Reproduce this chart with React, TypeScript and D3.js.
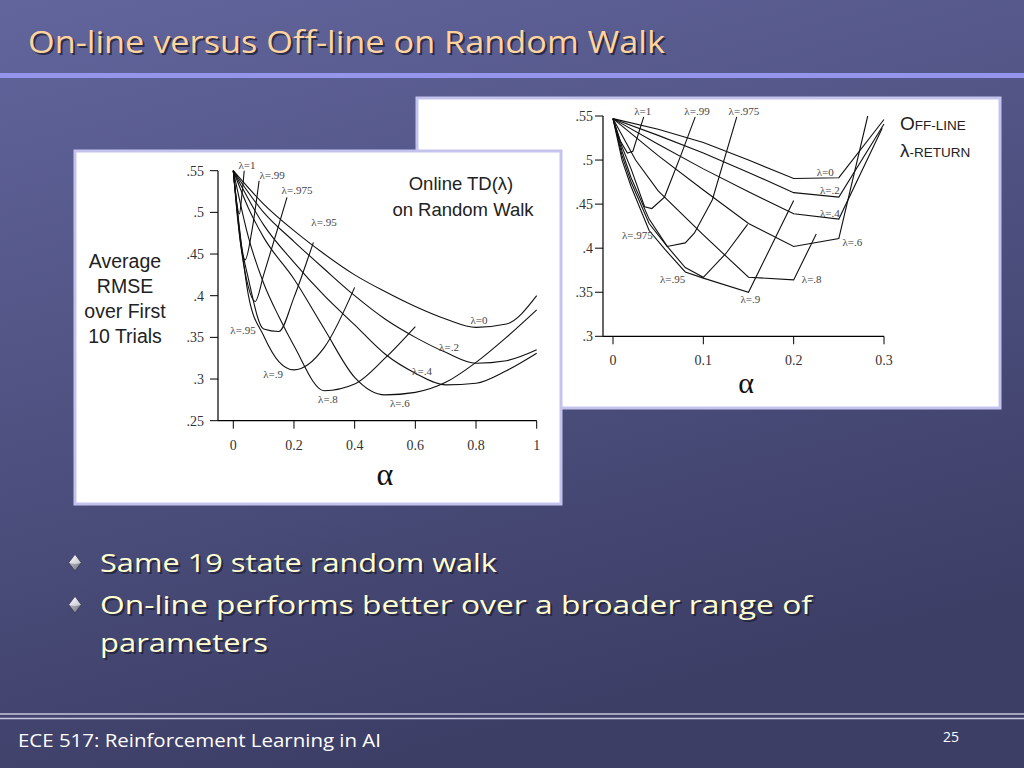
import * as d3 from "d3"

// ---- slide text ----
const titleText = "On-line versus Off-line on Random Walk"
const bulletLines = ["Same 19 state random walk", "On-line performs better over a broader range of", "parameters"]
const footerText = "ECE 517: Reinforcement Learning in AI"
const pageNo = "25"

// ---- online TD(lambda) chart: [alpha, rmse] ----
const onL0 = [[0, .55], [.1, .51], [.2, .478], [.3, .45], [.4, .425], [.5, .405], [.6, .387], [.7, .372], [.8, .362], [.9, .366], [1, .40]]
const onL2 = [[0, .55], [.1, .50], [.2, .465], [.3, .432], [.4, .40], [.5, .372], [.6, .35], [.7, .332], [.8, .319], [.9, .322], [1, .335]]
const onL4 = [[0, .55], [.1, .485], [.2, .44], [.3, .40], [.4, .365], [.5, .33], [.6, .307], [.7, .293], [.8, .295], [.9, .31], [1, .331]]
const onL6 = [[0, .55], [.05, .505], [.1, .47], [.2, .42], [.3, .36], [.4, .302], [.5, .281], [.6, .284], [.7, .296], [.8, .32], [.9, .35], [1, .383]]
const onL8 = [[0, .55], [.05, .47], [.1, .415], [.15, .375], [.2, .34], [.3, .286], [.4, .294], [.5, .325], [.6, .363]]
const onL9 = [[0, .55], [.05, .40], [.1, .352], [.15, .321], [.2, .311], [.3, .338], [.4, .41]]
const onL95 = [[0, .55], [.025, .465], [.05, .42], [.1, .36], [.15, .357], [.2, .398], [.25, .449], [.264, .464]]
const onL975 = [[0, .55], [.025, .46], [.05, .41], [.072, .393], [.1, .425], [.15, .485], [.177, .518]]
const onL99 = [[0, .55], [.015, .49], [.03, .45], [.039, .443], [.06, .475], [.085, .538]]
const onL1 = [[0, .55], [.01, .515], [.02, .498], [.028, .52], [.036, .55]]
const onSeries = [onL0, onL2, onL4, onL6, onL8, onL9, onL95, onL975, onL99, onL1]

const onLabelText = ["λ=1", "λ=.99", "λ=.975", "λ=.95", "λ=.95", "λ=.9", "λ=.8", "λ=.6", "λ=.4", "λ=.2", "λ=0"]
const onLabelAt = [[.045, .557], [.128, .545], [.21, .527], [.299, .488], [.032, .359], [.131, .306], [.312, .276], [.549, .271], [.622, .309], [.711, .338], [.81, .371]]

const onTicksX = [0, .2, .4, .6, .8, 1]
const onTickLabelsX = ["0", "0.2", "0.4", "0.6", "0.8", "1"]
const onTicksY = [.25, .3, .35, .4, .45, .5, .55]
const onTickLabelsY = [".25", ".3", ".35", ".4", ".45", ".5", ".55"]
const yTitleLines = ["Average", "RMSE", "over First", "10 Trials"]

// ---- off-line lambda-return chart ----
const offL0 = [[0, .547], [.05, .535], [.1, .52], [.15, .50], [.2, .479], [.25, .48], [.3, .546]]
const offL2 = [[0, .547], [.05, .528], [.1, .508], [.15, .486], [.2, .463], [.25, .458], [.3, .541]]
const offL4 = [[0, .547], [.05, .518], [.1, .49], [.15, .464], [.2, .439], [.25, .433], [.298, .536]]
const offL6 = [[0, .547], [.05, .505], [.1, .466], [.15, .428], [.2, .402], [.25, .411], [.282, .55]]
const offL8 = [[0, .547], [.025, .5], [.05, .465], [.1, .415], [.15, .367], [.2, .364], [.225, .416]]
const offL9 = [[0, .547], [.01, .5], [.02, .47], [.04, .42], [.058, .398], [.08, .373], [.1, .366], [.15, .35], [.2, .454]]
const offL95 = [[0, .547], [.01, .505], [.02, .475], [.04, .428], [.06, .402], [.08, .378], [.1, .367], [.125, .394], [.149, .427]]
const offL975 = [[0, .547], [.01, .51], [.02, .48], [.04, .433], [.06, .402], [.08, .406], [.09, .417], [.11, .455], [.137, .549]]
const offL99 = [[0, .547], [.01, .515], [.02, .49], [.035, .447], [.043, .445], [.057, .458], [.075, .505], [.091, .549]]
const offL1 = [[0, .547], [.008, .522], [.016, .508], [.022, .51], [.034, .549]]
const offSeries = [offL0, offL2, offL4, offL6, offL8, offL9, offL95, offL975, offL99, offL1]

const offLabelText = ["λ=1", "λ=.99", "λ=.975", "λ=0", "λ=.2", "λ=.4", "λ=.6", "λ=.8", "λ=.9", "λ=.95", "λ=.975"]
const offLabelAt = [[.033, .556], [.093, .556], [.145, .556], [.235, .486], [.24, .466], [.24, .44], [.265, .407], [.22, .365], [.152, .342], [.066, .365], [.027, .415]]

const offTicksX = [0, .1, .2, .3]
const offTickLabelsX = ["0", "0.1", "0.2", "0.3"]
const offTicksY = [.3, .35, .4, .45, .5, .55]
const offTickLabelsY = [".3", ".35", ".4", ".45", ".5", ".55"]

const serif = "'Liberation Serif', 'DejaVu Serif', serif"
const sans = "'Liberation Sans', Arial, sans-serif"
const slideFont = "'Open Sans', 'DejaVu Sans', sans-serif"

type Scale = d3.ScaleLinear<number, number>

function Panel({ x, y, series, smooth, labels, labelAt, ticksX, tickLabelsX, ticksY, tickLabelsY, axisX, xLabelY, yLabelX, alphaAt, alphaSize }: {
  x: Scale, y: Scale, series: number[][][], smooth: boolean, labels: string[], labelAt: number[][],
  ticksX: number[], tickLabelsX: string[], ticksY: number[], tickLabelsY: string[],
  axisX: number, xLabelY: number, yLabelX: number, alphaAt: number[], alphaSize: number
}) {
  const line = d3.line<number[]>().x(d => x(d[0])).y(d => y(d[1]))
    .curve(smooth ? d3.curveMonotoneX : d3.curveLinear)
  const [y0, y1] = y.range()
  const xEnd = x.range()[1]
  return (
    <g>
      <line x1={axisX} x2={axisX} y1={y1} y2={y0} stroke="#000" strokeWidth={1.2} />
      <line x1={axisX} x2={xEnd} y1={y0} y2={y0} stroke="#000" strokeWidth={1.2} />
      {ticksY.map((t, i) => (
        <g key={"y" + i}>
          <line x1={axisX - 8} x2={axisX} y1={y(t)} y2={y(t)} stroke="#000" />
          <text x={yLabelX} y={y(t)} dy="0.35em" textAnchor="end" fontFamily={serif} fontSize={14} fill="#333">{tickLabelsY[i]}</text>
        </g>
      ))}
      {ticksX.map((t, i) => (
        <g key={"x" + i}>
          <line x1={x(t)} x2={x(t)} y1={y0} y2={y0 + 8} stroke="#000" />
          <text x={x(t)} y={xLabelY} dy="0.35em" textAnchor="middle" fontFamily={serif} fontSize={14} fill="#333">{tickLabelsX[i]}</text>
        </g>
      ))}
      {series.map((s, i) => (
        <path key={"s" + i} d={line(s) ?? ""} fill="none" stroke="#111" strokeWidth={1.1} />
      ))}
      {labels.map((t, i) => (
        <text key={"l" + i} x={x(labelAt[i][0])} y={y(labelAt[i][1])} dy="0.35em" textAnchor="middle"
          fontFamily={serif} fontSize={11} fill="#444">{t}</text>
      ))}
      <text x={alphaAt[0]} y={alphaAt[1]} dy="0.3em" textAnchor="middle" fontFamily={serif} fontSize={alphaSize} fill="#111">α</text>
    </g>
  )
}

function Shadowed({ x, y, text, size, fill, len }: { x: number, y: number, text: string, size: number, fill: string, len: number }) {
  return (
    <g fontFamily={slideFont} fontSize={size}>
      <text x={x + 2} y={y + 2} fill="#1e1f33" fillOpacity={0.8} textLength={len} lengthAdjust="spacingAndGlyphs">{text}</text>
      <text x={x} y={y} fill={fill} textLength={len} lengthAdjust="spacingAndGlyphs">{text}</text>
    </g>
  )
}

export default function App() {
  const onX = d3.scaleLinear().domain([0, 1]).range([233.3, 536.7])
  const onY = d3.scaleLinear().domain([.25, .55]).range([420.7, 170.7])
  const offX = d3.scaleLinear().domain([0, .3]).range([613, 884])
  const offY = d3.scaleLinear().domain([.3, .55]).range([336.3, 116])
  const bulletY = [572, 614, 652]
  const bulletLen = [397, 712, 168]

  return (
    <svg width={1024} height={768} style={{ position: "absolute", left: 0, top: 0 }}>
      <defs>
        <linearGradient id="bg" x1="0" y1="0" x2="0.35" y2="1">
          <stop offset="0" stopColor="#62659c" />
          <stop offset="1" stopColor="#3c3e66" />
        </linearGradient>
        <linearGradient id="gemL" x1="0" y1="0" x2="1" y2="1">
          <stop offset="0" stopColor="#ffffff" />
          <stop offset="1" stopColor="#c4c4d0" />
        </linearGradient>
        <linearGradient id="gemD" x1="0" y1="0" x2="1" y2="1">
          <stop offset="0" stopColor="#d0d0da" />
          <stop offset="1" stopColor="#707080" />
        </linearGradient>
      </defs>
      <rect width={1024} height={768} fill="url(#bg)" />

      <Shadowed x={28} y={53} text={titleText} size={31} fill="#ffd49e" len={637} />
      <rect x={0} y={73} width={1024} height={5} fill="#9595ec" />

      {/* off-line chart (behind) */}
      <rect x={417} y={98} width={583} height={310} fill="#fff" stroke="#c3c3ee" strokeWidth={3} />
      <Panel x={offX} y={offY} series={offSeries} smooth={false} labels={offLabelText} labelAt={offLabelAt}
        ticksX={offTicksX} tickLabelsX={offTickLabelsX} ticksY={offTicksY} tickLabelsY={offTickLabelsY}
        axisX={603} xLabelY={360} yLabelX={593} alphaAt={[746, 384]} alphaSize={30} />
      <text x={900} y={130} fontFamily={sans} fill="#222">
        <tspan fontSize={19}>O</tspan><tspan fontSize={13.5}>FF-LINE</tspan>
      </text>
      <text x={900} y={157} fontFamily={sans} fill="#222">
        <tspan fontSize={19}>λ</tspan><tspan fontSize={13.5}>-RETURN</tspan>
      </text>

      {/* on-line chart (front) */}
      <rect x={75} y={151} width={486} height={353} fill="#fff" stroke="#c3c3ee" strokeWidth={3} />
      <Panel x={onX} y={onY} series={onSeries} smooth={true} labels={onLabelText} labelAt={onLabelAt}
        ticksX={onTicksX} tickLabelsX={onTickLabelsX} ticksY={onTicksY} tickLabelsY={onTickLabelsY}
        axisX={218} xLabelY={445} yLabelX={204} alphaAt={[385, 475]} alphaSize={32} />
      {yTitleLines.map((t, i) => (
        <text key={t} x={125} y={268 + i * 25} textAnchor="middle" fontFamily={sans} fontSize={19.5} fill="#222">{t}</text>
      ))}
      <text x={461} y={190} textAnchor="middle" fontFamily={sans} fontSize={18.5} fill="#222">Online TD(λ)</text>
      <text x={463} y={216} textAnchor="middle" fontFamily={sans} fontSize={18.5} fill="#222">on Random Walk</text>

      {/* bullets */}
      {[0, 1].map(i => {
        const cy = bulletY[i] - 9
        return (
          <g key={"gem" + i}>
            <polygon points={`75,${cy - 8} 81,${cy} 75,${cy + 8} 69,${cy}`} fill="url(#gemD)" stroke="#2a2a3a" strokeWidth={0.6} />
            <polygon points={`75,${cy - 8} 81,${cy} 75,${cy + 1} 69,${cy}`} fill="url(#gemL)" />
          </g>
        )
      })}
      {bulletLines.map((t, i) => (
        <Shadowed key={t} x={100} y={bulletY[i]} text={t} size={26} fill="#ffffd2" len={bulletLen[i]} />
      ))}

      {/* footer */}
      <line x1={0} x2={1024} y1={714} y2={714} stroke="#c6c6dc" strokeWidth={1.5} />
      <line x1={0} x2={1024} y1={718.5} y2={718.5} stroke="#c6c6dc" strokeWidth={1.5} />
      <text x={18} y={747} fontFamily={slideFont} fontSize={19} fill="#ffffff" textLength={363} lengthAdjust="spacingAndGlyphs">{footerText}</text>
      <text x={943} y={742} fontFamily={slideFont} fontSize={14} fill="#ffffff">{pageNo}</text>
    </svg>
  )
}
